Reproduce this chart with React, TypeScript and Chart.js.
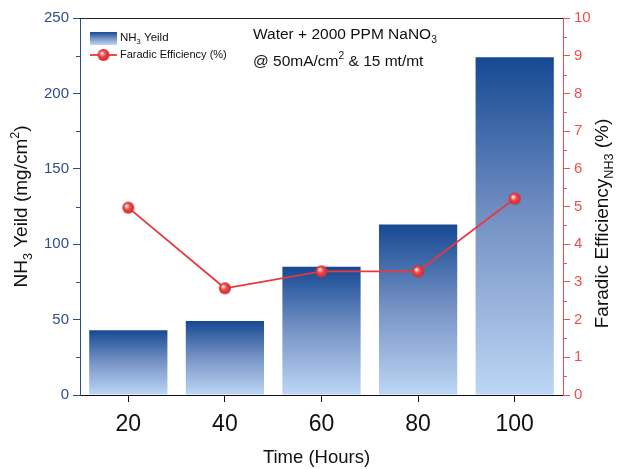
import React, { useEffect, useRef } from "react";
import { Chart, registerables } from "chart.js";

Chart.register(...registerables);

// Time points (hours)
const hours = ["20", "40", "60", "80", "100"];
// NH3 yield (mg/cm2)
const yieldValues = [43, 49, 85, 113, 224];
// Faradaic efficiency (%)
const efficiencyValues = [4.97, 2.83, 3.28, 3.28, 5.21];

const yieldTicks = { min: 0, max: 250, step: 50, minor: 25 };
const effTicks = { min: 0, max: 10, step: 1, minor: 0.5 };

const FONT = '"Liberation Sans", Arial, Helvetica, sans-serif';
const BLUE_AXIS = "#2b4f8c";
const RED_AXIS = "#ef4f4f";
const RED_LINE = "#e8383c";

type Seg = { t: string; s?: "sub" | "sup" };

function segFont(size: number, s?: string) {
  return `${s ? size * 0.66 : size}px ${FONT}`;
}

function richWidth(ctx: CanvasRenderingContext2D, segs: Seg[], size: number) {
  let w = 0;
  for (const g of segs) {
    ctx.font = segFont(size, g.s);
    w += ctx.measureText(g.t).width;
  }
  return w;
}

function drawRich(
  ctx: CanvasRenderingContext2D,
  segs: Seg[],
  x: number,
  y: number,
  size: number,
  color: string,
  align: "left" | "center"
) {
  ctx.save();
  ctx.fillStyle = color;
  ctx.textBaseline = "middle";
  ctx.textAlign = "left";
  let cx = align === "center" ? x - richWidth(ctx, segs, size) / 2 : x;
  for (const g of segs) {
    ctx.font = segFont(size, g.s);
    const dy = g.s === "sub" ? size * 0.32 : g.s === "sup" ? -size * 0.36 : 0;
    ctx.fillText(g.t, cx, y + dy);
    cx += ctx.measureText(g.t).width;
  }
  ctx.restore();
}

function makeSphere(r: number): HTMLCanvasElement {
  const c = document.createElement("canvas");
  const d = r * 2 + 2;
  c.width = d;
  c.height = d;
  const g = c.getContext("2d")!;
  const cx = d / 2;
  const gr = g.createRadialGradient(cx - r * 0.35, cx - r * 0.35, 0, cx, cx, r);
  gr.addColorStop(0, "#ffffff");
  gr.addColorStop(0.18, "#ffc4c4");
  gr.addColorStop(0.5, "#f04646");
  gr.addColorStop(1, "#d02a2a");
  g.fillStyle = gr;
  g.beginPath();
  g.arc(cx, cx, r, 0, Math.PI * 2);
  g.fill();
  return c;
}

function barGradient(ctx: CanvasRenderingContext2D, top: number, bottom: number) {
  const g = ctx.createLinearGradient(0, top, 0, bottom);
  g.addColorStop(0, "#164993");
  g.addColorStop(0.5, "#7894c6");
  g.addColorStop(1, "#bdd7f5");
  return g;
}

const sphere = makeSphere(6);

const decorPlugin = {
  id: "decor",
  afterDraw(chart: any) {
    const ctx: CanvasRenderingContext2D = chart.ctx;
    const { left, right, top, bottom } = chart.chartArea;
    const ys = chart.scales.y;
    const ys1 = chart.scales.y1;

    ctx.save();
    // top frame line
    ctx.strokeStyle = "#222";
    ctx.lineWidth = 1;
    ctx.beginPath();
    ctx.moveTo(left, Math.round(top) + 0.5);
    ctx.lineTo(right, Math.round(top) + 0.5);
    ctx.stroke();

    // minor ticks
    ctx.strokeStyle = BLUE_AXIS;
    for (let v = yieldTicks.minor; v < yieldTicks.max; v += yieldTicks.step) {
      const py = Math.round(ys.getPixelForValue(v)) + 0.5;
      ctx.beginPath();
      ctx.moveTo(left - 4, py);
      ctx.lineTo(left, py);
      ctx.stroke();
    }
    ctx.strokeStyle = RED_AXIS;
    for (let v = effTicks.minor; v < effTicks.max; v += effTicks.step) {
      const py = Math.round(ys1.getPixelForValue(v)) + 0.5;
      ctx.beginPath();
      ctx.moveTo(right, py);
      ctx.lineTo(right + 4, py);
      ctx.stroke();
    }
    ctx.restore();

    // axis titles
    ctx.save();
    ctx.translate(22, (top + bottom) / 2);
    ctx.rotate(-Math.PI / 2);
    drawRich(
      ctx,
      [{ t: "NH" }, { t: "3", s: "sub" }, { t: " Yeild (mg/cm" }, { t: "2", s: "sup" }, { t: ")" }],
      0,
      0,
      19,
      "#111",
      "center"
    );
    ctx.restore();

    ctx.save();
    ctx.translate(603, (top + bottom) / 2 + 17);
    ctx.rotate(-Math.PI / 2);
    drawRich(
      ctx,
      [{ t: "Faradic Efficiency" }, { t: "NH3", s: "sub" }, { t: " (%)" }],
      0,
      0,
      19,
      "#111",
      "center"
    );
    ctx.restore();

    drawRich(ctx, [{ t: "Time (Hours)" }], (left + right) / 2 - 5, 458, 18.5, "#111", "center");

    // legend
    ctx.save();
    ctx.fillStyle = barGradient(ctx, 32, 45);
    ctx.fillRect(90, 32, 27, 13);
    ctx.restore();
    drawRich(ctx, [{ t: "NH" }, { t: "3", s: "sub" }, { t: " Yeild" }], 120, 38, 11.5, "#111", "left");

    ctx.save();
    ctx.strokeStyle = RED_LINE;
    ctx.lineWidth = 1.8;
    ctx.beginPath();
    ctx.moveTo(90, 55);
    ctx.lineTo(117, 55);
    ctx.stroke();
    ctx.drawImage(sphere, 103.5 - sphere.width / 2, 55 - sphere.height / 2);
    ctx.restore();
    drawRich(ctx, [{ t: "Faradic Efficiency (%)" }], 120, 55, 11, "#111", "left");

    // condition note
    drawRich(ctx, [{ t: "Water + 2000 PPM NaNO" }, { t: "3", s: "sub" }], 253, 35, 15.5, "#111", "left");
    drawRich(
      ctx,
      [{ t: "@ 50mA/cm" }, { t: "2", s: "sup" }, { t: " & 15 mt/mt" }],
      253,
      62,
      15.5,
      "#111",
      "left"
    );
  },
};

export default function App() {
  const ref = useRef<HTMLCanvasElement | null>(null);

  useEffect(() => {
    if (!ref.current) return;
    const chart = new Chart(ref.current, {
      type: "bar",
      data: {
        labels: hours,
        datasets: [
          {
            type: "line",
            label: "Faradic Efficiency (%)",
            data: efficiencyValues,
            yAxisID: "y1",
            borderColor: RED_LINE,
            borderWidth: 1.8,
            pointStyle: sphere as any,
            pointRadius: 6,
            tension: 0,
            order: 0,
          } as any,
          {
            type: "bar",
            label: "NH3 Yeild",
            data: yieldValues,
            yAxisID: "y",
            barPercentage: 0.81,
            categoryPercentage: 1,
            order: 1,
            backgroundColor: (c: any) => {
              const ch = c.chart;
              if (c.type !== "data" || !ch.chartArea) return "#5a7ab5";
              const s = ch.scales.y;
              return barGradient(ch.ctx, s.getPixelForValue(c.raw), s.getPixelForValue(0));
            },
          },
        ],
      },
      options: {
        animation: false,
        responsive: true,
        maintainAspectRatio: false,
        layout: { padding: { top: 18, left: 0, right: 0, bottom: 0 } },
        plugins: { legend: { display: false }, tooltip: { enabled: false } },
        scales: {
          x: {
            type: "category",
            grid: { drawOnChartArea: false, offset: false, tickLength: 7, color: "#111" },
            border: { color: "#111", width: 1 },
            ticks: { color: "#111", font: { size: 23, family: FONT }, padding: 9 },
            afterFit: (s: any) => {
              s.height = 74;
            },
          },
          y: {
            position: "left",
            min: yieldTicks.min,
            max: yieldTicks.max,
            grid: { drawOnChartArea: false, tickLength: 7, color: BLUE_AXIS },
            border: { color: BLUE_AXIS, width: 1 },
            ticks: { stepSize: yieldTicks.step, color: BLUE_AXIS, font: { size: 15, family: FONT }, padding: 4 },
            afterFit: (s: any) => {
              s.width = 80;
            },
          },
          y1: {
            position: "right",
            min: effTicks.min,
            max: effTicks.max,
            grid: { drawOnChartArea: false, tickLength: 7, color: RED_AXIS },
            border: { color: RED_AXIS, width: 1 },
            ticks: { stepSize: effTicks.step, color: RED_AXIS, font: { size: 15, family: FONT }, padding: 4 },
            afterFit: (s: any) => {
              s.width = 54;
            },
          },
        },
      } as any,
      plugins: [decorPlugin],
    });
    return () => chart.destroy();
  }, []);

  return (
    <div style={{ position: "fixed", left: 0, top: 0, width: 617, height: 469, background: "#fff" }}>
      <canvas ref={ref} />
    </div>
  );
}
